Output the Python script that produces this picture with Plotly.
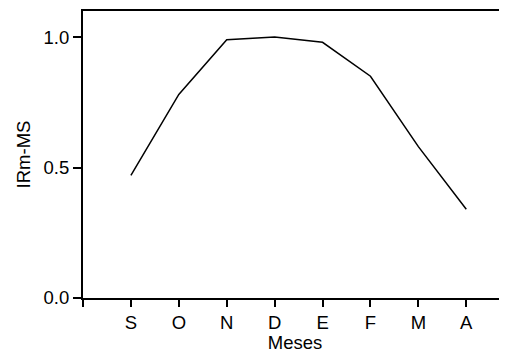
import plotly.graph_objects as go

months = ["S", "O", "N", "D", "E", "F", "M", "A"]
positions = [1, 2, 3, 4, 5, 6, 7, 8]
irm_ms = [0.47, 0.78, 0.99, 1.00, 0.98, 0.85, 0.58, 0.34]
y_ticks = [0.0, 0.5, 1.0]
y_tick_labels = ["0.0", "0.5", "1.0"]

font_family = "Liberation Sans, Arial, sans-serif"

fig = go.Figure()
fig.add_trace(go.Scatter(
    x=positions, y=irm_ms, mode="lines",
    line=dict(color="black", width=1.5),
    showlegend=False, hoverinfo="skip",
))

# page body has an 8px margin, so the figure is 8px smaller and shifted
fig.update_layout(
    width=499, height=345,
    margin=dict(l=75, r=0, t=3, b=55, autoexpand=False),
    paper_bgcolor="white", plot_bgcolor="white",
    font=dict(family=font_family, size=18.5, color="black"),
    xaxis=dict(
        range=[0, 8.85],
        tickmode="array",
        tickvals=[0] + positions,
        ticktext=[""] + months,
        ticks="outside", ticklen=7, tickwidth=1.5, tickcolor="black",
        showline=True, linecolor="black", linewidth=2, mirror=True,
        showgrid=False, zeroline=False,
        title=dict(text="Meses", standoff=13, font=dict(size=18.5)),
    ),
    yaxis=dict(
        range=[0, 1.1],
        tickmode="array",
        tickvals=y_ticks,
        ticktext=y_tick_labels,
        ticks="outside", ticklen=8, tickwidth=1.5, tickcolor="black",
        showline=True, linecolor="black", linewidth=2,
        showgrid=False, zeroline=False,
        title=dict(text="IRm-MS", standoff=8, font=dict(size=18.5)),
    ),
)

fig.write_html("out.html")
